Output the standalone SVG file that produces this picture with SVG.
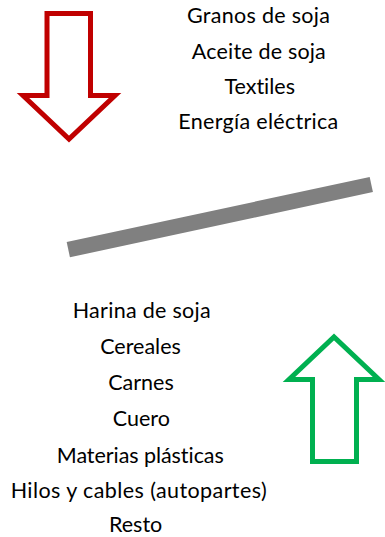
<svg xmlns="http://www.w3.org/2000/svg" width="385" height="537" viewBox="0 0 385 537">
<style>
.t{font-family:"Lato","Noto Sans","DejaVu Sans",sans-serif;font-size:21.5px;fill:#000;text-anchor:middle;font-variant-ligatures:none;font-feature-settings:"liga" 0}
.arr{fill:#fff;stroke-width:5;stroke-linejoin:miter}
</style>
<rect width="385" height="537" fill="#fff"/>
<g id="arrow-down">
<path class="arr" stroke="#C00000" d="M47,13.5 L90.5,13.5 L90.5,95.5 L115,95.5 L69,139 L23,95.5 L47,95.5 Z"/>
</g>
<g id="exports">
<text class="t" x="258.5" y="23" textLength="143">Granos de soja</text>
<text class="t" x="258.8" y="59" textLength="134">Aceite de soja</text>
<text class="t" x="259.7" y="94">Textiles</text>
<text class="t" x="258.3" y="129" textLength="160">Energía eléctrica</text>
</g>
<g id="connectors">
<line x1="68.3" y1="249.7" x2="371.3" y2="184.5" stroke="#808080" stroke-width="15.5"/>
</g>
<g id="imports">
<text class="t" x="141.7" y="318" textLength="138">Harina de soja</text>
<text class="t" x="140.5" y="354">Cereales</text>
<text class="t" x="141" y="390">Carnes</text>
<text class="t" x="141.3" y="426">Cuero</text>
<text class="t" x="140.3" y="463" textLength="167">Materias plásticas</text>
<text class="t" x="138.7" y="498" textLength="256">Hilos y cables (autopartes)</text>
<text class="t" x="135.6" y="532">Resto</text>
</g>
<g id="arrow-up">
<path class="arr" stroke="#00B050" d="M312.5,461.5 L356.5,461.5 L356.5,379.5 L379,379.5 L334,337 L289,379.5 L312.5,379.5 Z"/>
</g>
</svg>
